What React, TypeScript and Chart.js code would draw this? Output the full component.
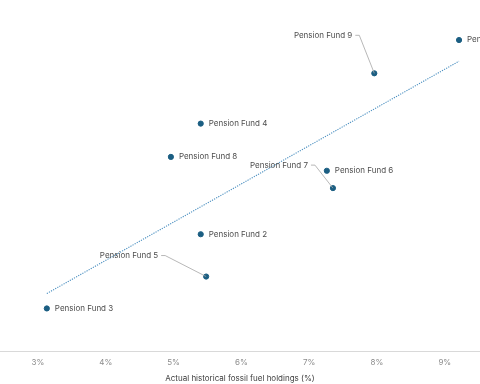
import React, { useEffect, useRef } from "react";
import { Chart, registerables } from "chart.js";

Chart.register(...registerables);

const fundNames = [
  "Pension Fund 1",
  "Pension Fund 2",
  "Pension Fund 3",
  "Pension Fund 4",
  "Pension Fund 5",
  "Pension Fund 6",
  "Pension Fund 7",
  "Pension Fund 8",
  "Pension Fund 9",
];
const fossilHoldings = [9.21, 5.4, 3.13, 5.4, 5.48, 7.26, 7.35, 4.96, 7.96];
const otherMeasure = [8.99, 3.39, 1.25, 6.58, 2.17, 5.22, 4.72, 5.62, 8.03];
const trendX = [3.13, 9.21];
const trendY = [1.68, 8.38];
const xTickValues = [3, 4, 5, 6, 7, 8, 9];

// label placement: null = to the right of the point; otherwise offset of the label's right end
const labelOffsets: ({ dx: number; dy: number } | null)[] = [
  null,
  null,
  null,
  null,
  { dx: -48, dy: -21 },
  null,
  { dx: -25, dy: -23 },
  null,
  { dx: -22, dy: -38 },
];

const FONT = "Inter, 'Noto Sans', sans-serif";

const labelPlugin = {
  id: "fundLabels",
  afterDatasetsDraw(chart: any) {
    const meta = chart.getDatasetMeta(0);
    const ctx = chart.ctx;
    ctx.save();
    ctx.font = `8px ${FONT}`;
    ctx.textBaseline = "middle";
    meta.data.forEach((pt: any, i: number) => {
      const off = labelOffsets[i];
      const name = fundNames[i];
      if (!off) {
        ctx.fillStyle = "#4d4d4d";
        ctx.textAlign = "left";
        ctx.fillText(name, pt.x + 8, pt.y);
      } else {
        const ex = pt.x + off.dx;
        const ey = pt.y + off.dy;
        ctx.strokeStyle = "#a6a6a6";
        ctx.lineWidth = 0.8;
        ctx.beginPath();
        ctx.moveTo(ex + 3, ey);
        ctx.lineTo(ex + 7, ey);
        ctx.lineTo(pt.x, pt.y);
        ctx.stroke();
        ctx.fillStyle = "#4d4d4d";
        ctx.textAlign = "right";
        ctx.fillText(name, ex, ey);
      }
    });
    ctx.restore();
  },
};

export default function App() {
  const ref = useRef<HTMLCanvasElement | null>(null);
  useEffect(() => {
    if (!ref.current) return;
    const chart = new Chart(ref.current, {
      type: "scatter",
      data: {
        datasets: [
          {
            type: "scatter",
            data: fossilHoldings.map((x, i) => ({ x, y: otherMeasure[i] })),
            backgroundColor: "#1b5e82",
            borderColor: "#1b5e82",
            pointRadius: 2.6,
            order: 0,
          },
          {
            type: "line",
            data: trendX.map((x, i) => ({ x, y: trendY[i] })),
            borderColor: "#4a8fc0",
            borderWidth: 1.1,
            borderDash: [1.2, 1.2],
            pointRadius: 0,
            fill: false,
            order: 1,
          } as any,
        ],
      },
      options: {
        animation: false,
        responsive: false,
        maintainAspectRatio: false,
        layout: { autoPadding: false, padding: { left: 0, right: 0, top: 5, bottom: 0 } },
        plugins: { legend: { display: false }, tooltip: { enabled: false } },
        scales: {
          x: {
            type: "linear",
            min: 2.4395,
            max: 9.519,
            afterBuildTicks: (axis: any) => {
              axis.ticks = xTickValues.map((v) => ({ value: v }));
            },
            grid: { display: false, drawTicks: false },
            border: { display: true, color: "#d9d9d9", width: 1 },
            ticks: {
              color: "#8c8c8c",
              font: { family: FONT, size: 8 },
              padding: 6,
              maxRotation: 0,
              callback: (v: any) => `${v}%`,
            },
            title: {
              display: true,
              text: "Actual historical fossil fuel holdings (%)",
              color: "#404040",
              font: { family: FONT, size: 8 },
              padding: { top: 0, bottom: 1 },
            },
          },
          y: {
            type: "linear",
            display: false,
            min: 0,
            max: 10,
          },
        },
      },
      plugins: [labelPlugin],
    });
    return () => chart.destroy();
  }, []);
  return (
    <div style={{ position: "fixed", left: 0, top: 0, width: 480, height: 384, background: "#fff" }}>
      <canvas ref={ref} width={480} height={384} />
    </div>
  );
}
